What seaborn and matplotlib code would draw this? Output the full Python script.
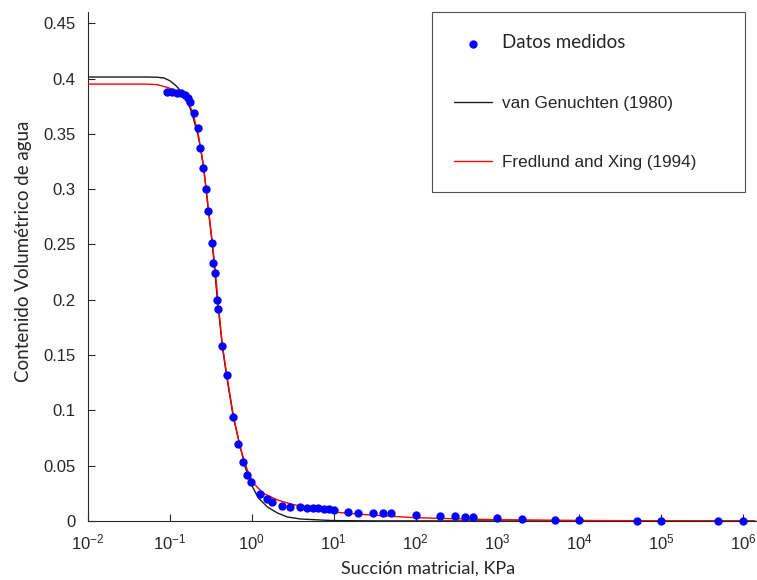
import pandas as pd
import seaborn as sns
from matplotlib import pyplot as plt
from matplotlib import ticker

# Datos medidos (succion en kPa, contenido volumetrico)
succion = [0.093, 0.107, 0.123, 0.137, 0.154, 0.167, 0.177, 0.198, 0.222, 0.235,
           0.256, 0.278, 0.294, 0.330, 0.339, 0.359, 0.380, 0.390, 0.436, 0.502,
           0.595, 0.685, 0.789, 0.883, 0.988, 1.27, 1.55, 1.79, 2.37, 2.97,
           3.93, 4.66, 5.67, 6.53, 7.52, 8.66, 9.97, 15, 20, 30,
           40, 50, 100, 200, 300, 400, 500, 1000, 2000, 5000,
           10000, 50000, 100000, 500000, 1000000]
theta = [0.388, 0.388, 0.387, 0.387, 0.385, 0.382, 0.379, 0.369, 0.355, 0.337,
         0.319, 0.300, 0.280, 0.251, 0.233, 0.224, 0.200, 0.192, 0.158, 0.132,
         0.094, 0.070, 0.053, 0.042, 0.035, 0.024, 0.020, 0.017, 0.0136, 0.0127,
         0.0127, 0.0118, 0.0118, 0.0118, 0.0108, 0.0108, 0.0099, 0.0081, 0.0072, 0.0072,
         0.0072, 0.0072, 0.0054, 0.0045, 0.0045, 0.0036, 0.0036, 0.0027, 0.0018, 0.0009,
         0.0009, 0.0, 0.0, 0.0, 0.0]

# curva van Genuchten (1980)
vg_x = [0.01, 0.05, 0.07, 0.085, 0.10, 0.115, 0.126, 0.14, 0.154, 0.165,
        0.177, 0.19, 0.204, 0.22, 0.235, 0.25, 0.263, 0.286, 0.33, 0.38,
        0.44, 0.50, 0.595, 0.724, 0.835, 1.02, 1.20, 1.55, 2.06, 2.73,
        3.94, 6.9, 10, 30, 1.4e6]
vg_y = [0.4014, 0.4014, 0.4012, 0.4005, 0.398, 0.3945, 0.3915, 0.387, 0.382, 0.378,
        0.373, 0.366, 0.358, 0.349, 0.338, 0.327, 0.315, 0.290, 0.250, 0.200,
        0.156, 0.128, 0.094, 0.067, 0.048, 0.031, 0.021, 0.0127, 0.0072, 0.0036,
        0.0018, 0.0009, 0.0004, 0.0001, 0.0]

# curva Fredlund and Xing (1994)
fx_x = [0.01, 0.05, 0.07, 0.093, 0.11, 0.123, 0.14, 0.154, 0.17, 0.187,
        0.205, 0.222, 0.24, 0.256, 0.278, 0.294, 0.33, 0.36, 0.38, 0.436,
        0.50, 0.60, 0.724, 0.883, 1.05, 1.39, 2.06, 3.0, 4.8, 7.0,
        10, 20, 50, 100, 400, 1000, 10000, 100000, 1.4e6]
fx_y = [0.395, 0.395, 0.3945, 0.392, 0.390, 0.388, 0.385, 0.382, 0.377, 0.371,
        0.360, 0.350, 0.335, 0.320, 0.300, 0.283, 0.252, 0.225, 0.205, 0.160,
        0.130, 0.094, 0.066, 0.046, 0.034, 0.025, 0.019, 0.0154, 0.0118, 0.0095,
        0.0082, 0.0062, 0.0043, 0.0030, 0.0018, 0.0012, 0.0005, 0.0002, 0.0]

x_ticks = [1e-2, 1e-1, 1e0, 1e1, 1e2, 1e3, 1e4, 1e5, 1e6]
y_ticks = [0, 0.05, 0.1, 0.15, 0.2, 0.25, 0.3, 0.35, 0.4, 0.45]
y_ticklabels = ['0', '0.05', '0.1', '0.15', '0.2', '0.25', '0.3', '0.35', '0.4', '0.45']

df_med = pd.DataFrame({'succion': succion, 'theta': theta})
df_vg = pd.DataFrame({'succion': vg_x, 'theta': vg_y})
df_fx = pd.DataFrame({'succion': fx_x, 'theta': fx_y})

sns.set_style('ticks')
plt.rcParams['font.family'] = ['Liberation Sans', 'DejaVu Sans']
plt.rcParams['xtick.direction'] = 'in'
plt.rcParams['ytick.direction'] = 'in'

fig = plt.figure(figsize=(7.57, 5.8), dpi=100)
ax = fig.add_axes([88 / 757, 59 / 580, 669 / 757, 508.8 / 580])

sns.lineplot(data=df_vg, x='succion', y='theta', ax=ax, color='#1a1a1a', linewidth=1,
             sort=False, estimator=None, label='van Genuchten (1980)', zorder=2)
sns.lineplot(data=df_fx, x='succion', y='theta', ax=ax, color='#ff0000', linewidth=1,
             sort=False, estimator=None, label='Fredlund and Xing (1994)', zorder=3)
sns.scatterplot(data=df_med, x='succion', y='theta', ax=ax, color='#0000ff', s=36,
                linewidth=0, label='Datos medidos', zorder=4, clip_on=False)

ax.set_xscale('log')
ax.set_xlim(1e-2, 10 ** 6.17)
ax.set_ylim(0, 0.46)
ax.xaxis.set_major_locator(ticker.FixedLocator(x_ticks))
ax.xaxis.set_major_formatter(ticker.LogFormatterSciNotation())
ax.xaxis.set_minor_locator(ticker.NullLocator())
ax.set_yticks(y_ticks)
ax.set_yticklabels(y_ticklabels)
ax.tick_params(axis='both', labelsize=12, colors='#262626', length=5, width=0.8)
ax.tick_params(axis='y', pad=9)
ax.tick_params(axis='x', pad=8)

sns.despine(ax=ax)
for s in ['left', 'bottom']:
    ax.spines[s].set_color('#262626')
    ax.spines[s].set_linewidth(0.8)

ax.set_xlabel('Succión matricial, KPa', fontsize=13, family=['Lato', 'DejaVu Sans'], labelpad=6)
ax.set_ylabel('Contenido Volumétrico de agua', fontsize=13.5, family=['Lato', 'DejaVu Sans'], labelpad=8)
ax.xaxis.label.set_x(0.508)
ax.yaxis.label.set_y(0.53)

handles, labels = ax.get_legend_handles_labels()
order = [2, 0, 1]
leg = ax.legend([handles[i] for i in order], [labels[i] for i in order],
                loc='upper left', bbox_to_anchor=(0.514, 0, 0.468, 1.0), mode='expand',
                borderaxespad=0, borderpad=1.3, labelspacing=2.6, handlelength=2.2,
                handletextpad=0.6, fontsize=12.3, frameon=True, fancybox=False,
                edgecolor='#262626', scatterpoints=1)
leg.get_frame().set_linewidth(0.8)
leg.get_texts()[0].set_fontfamily(['Lato', 'DejaVu Sans'])
leg.get_texts()[0].set_fontsize(13.5)

plt.savefig('out.png', dpi=100)
